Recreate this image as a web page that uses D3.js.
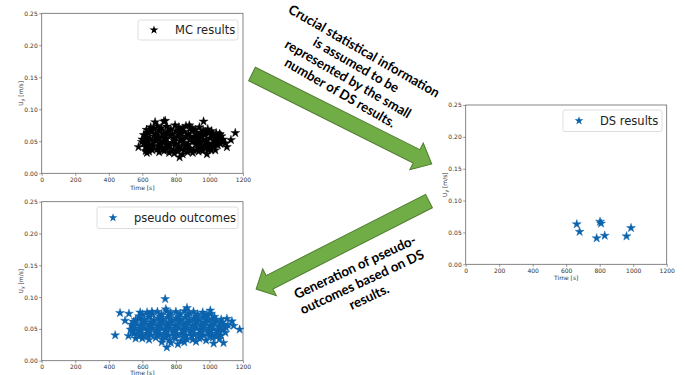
<!DOCTYPE html>
<html>
<head>
<meta charset="utf-8">
<script src="https://cdn.jsdelivr.net/npm/d3@7"></script>
<style>
  body { margin: 0; background: #fff; }
  svg { display: block; }
  .tick text { font-family: "DejaVu Sans", sans-serif; font-size: 6px; fill: #333; }
  .tick line { stroke: #555; stroke-width: 0.6; }
  .axis-label { font-family: "DejaVu Sans", sans-serif; font-size: 6px; fill: #333; }
  .legend-text { font-family: "DejaVu Sans", sans-serif; font-size: 11.5px; fill: #222; }
  .note { font-family: Lato, "Open Sans", sans-serif; font-weight: 700; font-size: 13.5px; fill: #000; }
</style>
</head>
<body>
<svg id="chart" width="685" height="375"></svg>
<script>
const xTicks = [0, 200, 400, 600, 800, 1000, 1200];
const yTicks = [0, 0.05, 0.10, 0.15, 0.20, 0.25];

// Monte Carlo results (black stars)
const mcTime = [
  577, 597, 627, 676, 736, 728, 965, 1154, 1128, 1104, 985, 1035, 822, 620, 880, 1095,
  625, 650, 668, 690, 712, 745, 770, 795, 818, 842, 860, 888, 915, 940, 962, 990, 1012, 1040, 1062,
  608, 632, 655, 680, 702, 726, 752, 778, 800, 826, 850, 874, 898, 922, 948, 972, 998, 1020, 1048, 1072,
  600, 622, 645, 668, 692, 716, 740, 765, 788, 812, 836, 860, 884, 908, 932, 956, 980, 1004, 1028, 1055, 1080,
  610, 634, 658, 682, 706, 730, 754, 778, 802, 826, 850, 874, 898, 922, 946, 970, 994, 1018, 1042, 1066,
  618, 642, 666, 690, 714, 738, 762, 786, 810, 834, 858, 882, 906, 930, 954, 978, 1002, 1026, 1050,
  640, 700, 730, 760, 790, 812, 840, 870, 900, 935, 960, 1010,
  640, 700, 760, 830, 900, 975,
  620, 690, 740, 815, 885, 935, 1010, 1060,
  615, 675, 725, 790, 845, 915, 965, 1040, 1070,
  630, 695, 745, 815, 865, 935, 985, 1030,
  660, 720, 775, 850, 890, 945, 990
];
const mcUy = [
  0.041, 0.049, 0.032, 0.080, 0.082, 0.081, 0.081, 0.063, 0.052, 0.041, 0.030, 0.036, 0.025, 0.035, 0.075, 0.047,
  0.068, 0.072, 0.070, 0.074, 0.071, 0.073, 0.069, 0.075, 0.072, 0.070, 0.074, 0.071, 0.068, 0.072, 0.067, 0.069, 0.066, 0.063, 0.061,
  0.060, 0.063, 0.065, 0.062, 0.066, 0.063, 0.065, 0.061, 0.066, 0.063, 0.065, 0.062, 0.066, 0.061, 0.064, 0.060, 0.063, 0.059, 0.057, 0.058,
  0.053, 0.056, 0.054, 0.058, 0.055, 0.057, 0.053, 0.058, 0.055, 0.057, 0.054, 0.058, 0.053, 0.056, 0.054, 0.057, 0.052, 0.055, 0.051, 0.054, 0.053,
  0.047, 0.049, 0.046, 0.050, 0.047, 0.049, 0.045, 0.048, 0.046, 0.050, 0.047, 0.045, 0.049, 0.046, 0.048, 0.044, 0.047, 0.045, 0.048, 0.046,
  0.041, 0.039, 0.042, 0.038, 0.041, 0.039, 0.042, 0.037, 0.040, 0.038, 0.041, 0.039, 0.036, 0.040, 0.038, 0.041, 0.039, 0.042, 0.044,
  0.034, 0.033, 0.035, 0.032, 0.031, 0.034, 0.030, 0.033, 0.032, 0.034, 0.035, 0.036,
  0.067, 0.068, 0.066, 0.067, 0.069, 0.065,
  0.059, 0.060, 0.059, 0.060, 0.058, 0.059, 0.060, 0.061,
  0.051, 0.052, 0.051, 0.051, 0.052, 0.050, 0.051, 0.052, 0.050,
  0.044, 0.043, 0.044, 0.043, 0.044, 0.043, 0.044, 0.046,
  0.036, 0.037, 0.035, 0.036, 0.036, 0.038, 0.037
];

// the small number of DS results
const dsTime = [663, 680, 782, 802, 808, 830, 960, 987];
const dsUy = [0.063, 0.051, 0.041, 0.067, 0.064, 0.045, 0.044, 0.057];

// pseudo outcomes generated from the DS results
const psTime = [
  438, 467, 520, 497, 517, 736, 740, 746, 716, 1084, 1025, 1180, 1104, 1134, 1144, 1005, 866, 657, 587, 550, 545, 560,
  600, 628, 660, 690, 715, 745, 770, 800, 825, 850, 880, 905, 930, 960, 985, 1010,
  560, 585, 612, 640, 668, 695, 722, 750, 776, 802, 828, 855, 882, 908, 935, 962, 988, 1015, 1042, 1070,
  535, 560, 588, 614, 640, 666, 692, 718, 744, 770, 796, 822, 848, 874, 900, 926, 952, 978, 1004, 1030, 1058, 1085,
  530, 556, 582, 608, 634, 660, 686, 712, 738, 764, 790, 816, 842, 868, 894, 920, 946, 972, 998, 1024, 1050, 1078, 1100,
  548, 574, 600, 626, 652, 678, 704, 730, 756, 782, 808, 834, 860, 886, 912, 938, 964, 990, 1016, 1042, 1068,
  600, 640, 680, 720, 760, 795, 830, 865, 900, 940, 980, 1020, 1060,
  770, 812, 850, 920,
  580, 640, 705, 760, 815, 870, 920, 975, 1030,
  548, 600, 655, 708, 760, 815, 865, 918, 970, 1022, 1075,
  545, 600, 650, 702, 755, 808, 860, 912, 962, 1015, 1065, 1110,
  540, 590, 640, 695, 745, 795, 850, 900, 955, 1005, 1060, 1095,
  580, 630, 690, 740, 790, 845, 895, 950, 1000, 1045
];
const psUy = [
  0.040, 0.075, 0.074, 0.063, 0.039, 0.097, 0.081, 0.021, 0.029, 0.028, 0.027, 0.049, 0.066, 0.062, 0.055, 0.079, 0.083, 0.077, 0.076, 0.061, 0.047, 0.035,
  0.073, 0.076, 0.074, 0.077, 0.073, 0.078, 0.075, 0.077, 0.074, 0.078, 0.075, 0.077, 0.073, 0.076, 0.072, 0.074,
  0.064, 0.067, 0.065, 0.068, 0.064, 0.067, 0.065, 0.068, 0.064, 0.067, 0.065, 0.068, 0.064, 0.067, 0.065, 0.068, 0.064, 0.066, 0.063, 0.065,
  0.057, 0.059, 0.056, 0.060, 0.057, 0.059, 0.056, 0.060, 0.057, 0.059, 0.056, 0.060, 0.057, 0.059, 0.056, 0.060, 0.057, 0.059, 0.056, 0.058, 0.055, 0.057,
  0.049, 0.051, 0.048, 0.052, 0.049, 0.051, 0.048, 0.052, 0.049, 0.051, 0.048, 0.052, 0.049, 0.051, 0.048, 0.052, 0.049, 0.051, 0.048, 0.050, 0.047, 0.049, 0.052,
  0.042, 0.044, 0.041, 0.043, 0.040, 0.044, 0.041, 0.043, 0.040, 0.044, 0.041, 0.043, 0.040, 0.044, 0.041, 0.043, 0.040, 0.044, 0.041, 0.043, 0.040,
  0.035, 0.033, 0.036, 0.034, 0.032, 0.035, 0.031, 0.034, 0.033, 0.035, 0.032, 0.036, 0.034,
  0.028, 0.026, 0.029, 0.030,
  0.070, 0.071, 0.070, 0.071, 0.070, 0.071, 0.070, 0.070, 0.069,
  0.061, 0.062, 0.061, 0.062, 0.061, 0.062, 0.061, 0.062, 0.061, 0.062, 0.060,
  0.053, 0.054, 0.053, 0.054, 0.053, 0.054, 0.053, 0.054, 0.053, 0.053, 0.052, 0.056,
  0.046, 0.046, 0.045, 0.046, 0.045, 0.046, 0.045, 0.046, 0.045, 0.046, 0.045, 0.044,
  0.038, 0.038, 0.039, 0.037, 0.038, 0.037, 0.038, 0.037, 0.038, 0.038
];

const noteTop = ["Crucial statistical information", "is assumed to be", "represented by the small", "number of DS results."];
const noteBottom = ["Generation of pseudo-", "outcomes based on DS", "results."];

const svg = d3.select("#chart");
svg.append("rect").attr("width", 685).attr("height", 375).attr("fill", "#fff");

const panels = [
  { left: 41.7, right: 243, top: 13.3, bottom: 173.3, xs: mcTime, ys: mcUy, color: "#000", xlab: 17,
    legend: { x: 138, y: 20, w: 100, h: 20, label: "MC results" } },
  { left: 465.7, right: 666.7, top: 105, bottom: 264.3, xs: dsTime, ys: dsUy, color: "#0b63ad", xlab: 16,
    legend: { x: 563, y: 110, w: 99, h: 21.5, label: "DS results" } },
  { left: 41.7, right: 243, top: 201.7, bottom: 360.7, xs: psTime, ys: psUy, color: "#0b63ad", xlab: 14,
    legend: { x: 97, y: 207, w: 141, h: 21.5, label: "pseudo outcomes" } }
];

const star = d3.symbol().type(d3.symbolStar).size(25);

panels.forEach(p => {
  const x = d3.scaleLinear().domain([0, 1200]).range([p.left, p.right]);
  const y = d3.scaleLinear().domain([0, 0.25]).range([p.bottom, p.top]);
  const g = svg.append("g");

  g.append("g")
    .attr("transform", `translate(0,${p.bottom})`)
    .call(d3.axisBottom(x).tickValues(xTicks).tickSize(2.5).tickPadding(1.5).tickFormat(d3.format("d")))
    .call(a => a.select(".domain").remove());

  g.append("g")
    .attr("transform", `translate(${p.left},0)`)
    .call(d3.axisLeft(y).tickValues(yTicks).tickSize(2.5).tickPadding(1.5).tickFormat(d3.format(".2f")))
    .call(a => a.select(".domain").remove());

  g.append("text")
    .attr("class", "axis-label")
    .attr("x", (p.left + p.right) / 2)
    .attr("y", p.bottom + p.xlab)
    .attr("text-anchor", "middle")
    .text("Time [s]");

  const yl = g.append("text")
    .attr("class", "axis-label")
    .attr("text-anchor", "middle")
    .attr("transform", `translate(${p.left - 19},${(p.top + p.bottom) / 2}) rotate(-90)`);
  yl.append("tspan").text("U");
  yl.append("tspan").attr("font-size", "4.5px").attr("dy", 1.5).text("y");
  yl.append("tspan").attr("dy", -1.5).text(" [m/s]");

  const pts = p.xs.map((t, i) => [t, p.ys[i]]);
  g.append("g")
    .selectAll("path")
    .data(pts)
    .join("path")
    .attr("d", star)
    .attr("transform", d => `translate(${x(d[0])},${y(d[1])})`)
    .attr("fill", p.color)
    .attr("stroke", p.color)
    .attr("stroke-width", 0.4);

  g.append("rect")
    .attr("x", p.left).attr("y", p.top)
    .attr("width", p.right - p.left).attr("height", p.bottom - p.top)
    .attr("fill", "none").attr("stroke", "#666").attr("stroke-width", 0.8);

  const L = p.legend;
  g.append("rect")
    .attr("x", L.x).attr("y", L.y).attr("width", L.w).attr("height", L.h)
    .attr("rx", 2).attr("fill", "#fff").attr("fill-opacity", 0.85)
    .attr("stroke", "#d5d5d5").attr("stroke-width", 0.8);
  g.append("path")
    .attr("d", d3.symbol().type(d3.symbolStar).size(24)())
    .attr("transform", `translate(${L.x + 16},${L.y + L.h / 2})`)
    .attr("fill", p.color);
  g.append("text")
    .attr("class", "legend-text")
    .attr("x", L.x + 37)
    .attr("y", L.y + L.h / 2 + 4)
    .text(L.label);
});

// green block arrows
function blockArrow(tx, ty, angle, length, shaftHalf, headHalf, headLen) {
  const s = length - headLen;
  const pts = [[0, -shaftHalf], [s, -shaftHalf], [s, -headHalf], [length, 0],
               [s, headHalf], [s, shaftHalf], [0, shaftHalf]];
  svg.append("polygon")
    .attr("points", pts.map(d => d.join(",")).join(" "))
    .attr("transform", `translate(${tx},${ty}) rotate(${angle})`)
    .attr("fill", "#70ad47")
    .attr("stroke", "#507e32")
    .attr("stroke-width", 1);
}
blockArrow(252, 74, 26.6, 201, 7.5, 15, 17);
blockArrow(429, 201, 153, 194, 7.5, 15, 15);

function note(lines, cx, cy, angle, lineGap, targetWidth) {
  const g = svg.append("g").attr("transform", `translate(${cx},${cy}) rotate(${angle})`);
  const inner = g.append("g");
  const t = inner.append("text").attr("class", "note").attr("text-anchor", "middle");
  lines.forEach((line, i) => {
    t.append("tspan")
      .attr("x", 0)
      .attr("y", (i - (lines.length - 1) / 2) * lineGap + 4.5)
      .text(line);
  });
  const first = t.select("tspan").node().getComputedTextLength();
  inner.attr("transform", `scale(${targetWidth / first},1)`);
}
note(noteTop, 352, 72, 30, 16, 172);
note(noteBottom, 362, 282, -25, 16.5, 133);
</script>
</body>
</html>
